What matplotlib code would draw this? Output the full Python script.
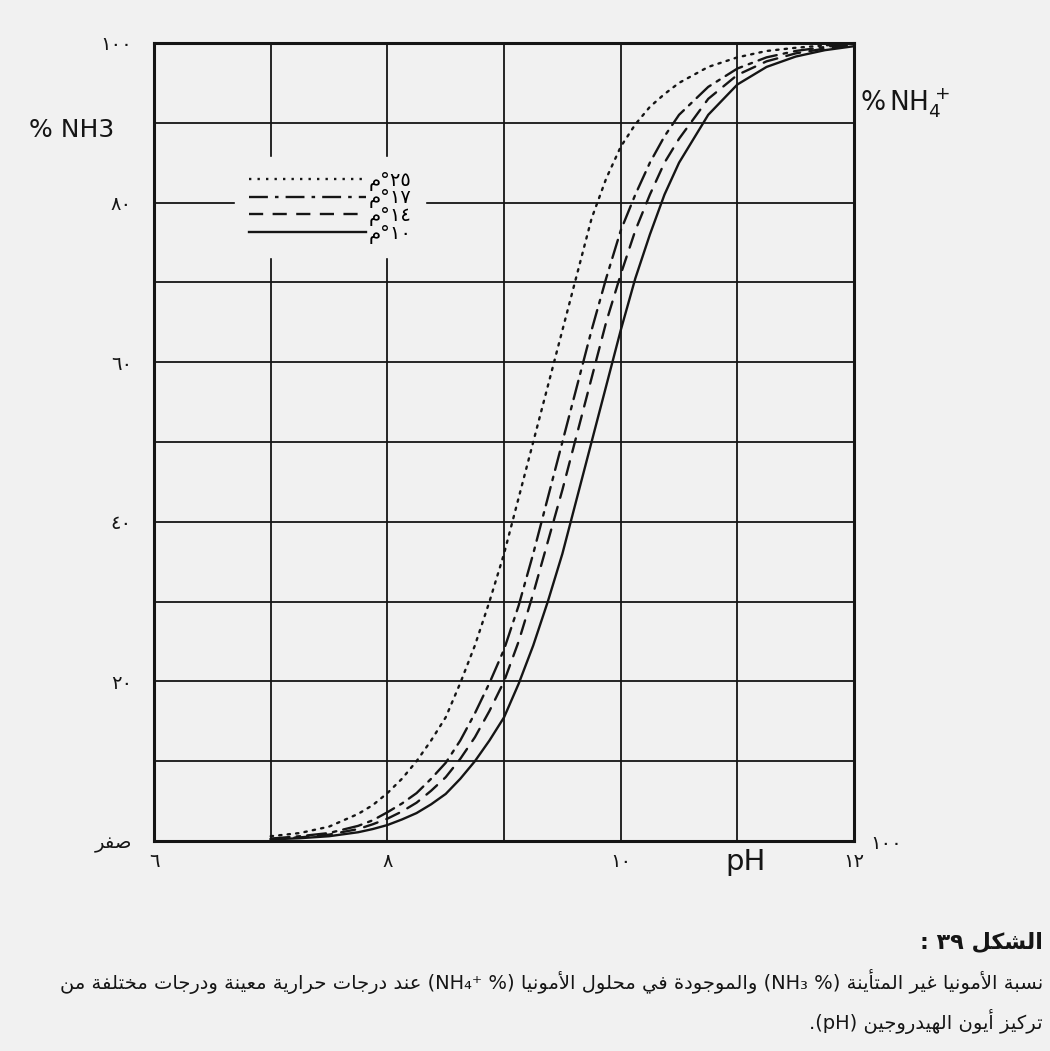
import matplotlib
matplotlib.use('Agg')
import matplotlib.pyplot as plt
from matplotlib.lines import Line2D

# valeurs (% NH3 en fonction du pH)
ph = [7.0, 7.25, 7.5, 7.75, 7.875, 8.0, 8.125, 8.25, 8.375, 8.5, 8.625,
      8.75, 8.875, 9.0, 9.125, 9.25, 9.375, 9.5, 9.625, 9.75, 9.875,
      10.0, 10.125, 10.25, 10.375, 10.5, 10.75, 11.0, 11.25, 11.5, 11.75, 12.0]
nh3_25 = [0.6, 1.0, 1.8, 3.4, 4.5, 6.0, 7.8, 10.0, 12.6, 15.5, 19.8,
          24.5, 30, 36, 43, 50, 57, 64, 71, 78, 83,
          87, 89.8, 92, 93.6, 95, 97, 98.2, 99, 99.4, 99.7, 100]
nh3_17 = [0.3, 0.6, 1.0, 1.9, 2.6, 3.6, 4.7, 6.0, 7.8, 9.8, 12.6,
          16, 19.8, 24, 29.5, 36, 43, 50, 57, 64, 70.5,
          76.5, 81, 85, 88.3, 91, 94.5, 96.8, 98.2, 99, 99.5, 100]
nh3_14 = [0.25, 0.45, 0.8, 1.5, 2.1, 2.8, 3.7, 4.8, 6.3, 8.0, 10.3,
          13, 16.3, 20, 25, 31, 37.5, 44, 51, 58, 65,
          71, 76.5, 81, 85, 88, 93, 96, 97.7, 98.7, 99.3, 99.8]
nh3_10 = [0.2, 0.35, 0.6, 1.1, 1.5, 2.0, 2.7, 3.5, 4.6, 5.9, 7.8,
          10, 12.6, 15.5, 19.7, 24.5, 30, 36, 43, 50, 57,
          64, 70.5, 76, 81, 85, 91, 94.8, 97, 98.3, 99.1, 99.6]
temperatures = ['٢٥', '١٧', '١٤', '١٠']
styles = [(0, (1, 2.6)), (0, (8, 3, 1.5, 3)), (0, (6, 4)), '-']

xticks = [6, 7, 8, 9, 10, 11, 12]
xlabels = ['٦', '', '٨', '', '١٠', '', '١٢']
yticks = [0, 10, 20, 30, 40, 50, 60, 70, 80, 90, 100]
ylabels = ['صفر', '', '٢٠', '', '٤٠', '', '٦٠', '', '٨٠', '', '١٠٠']

# formes contextuelles arabes (isolée, finale, initiale, médiane)
FORMES = {
    'ا': (0xFE8D, 0xFE8E, None, None), 'أ': (0xFE83, 0xFE84, None, None),
    'ب': (0xFE8F, 0xFE90, 0xFE91, 0xFE92), 'ة': (0xFE93, 0xFE94, None, None),
    'ت': (0xFE95, 0xFE96, 0xFE97, 0xFE98), 'ج': (0xFE9D, 0xFE9E, 0xFE9F, 0xFEA0),
    'ح': (0xFEA1, 0xFEA2, 0xFEA3, 0xFEA4), 'خ': (0xFEA5, 0xFEA6, 0xFEA7, 0xFEA8),
    'د': (0xFEA9, 0xFEAA, None, None), 'ر': (0xFEAD, 0xFEAE, None, None),
    'ز': (0xFEAF, 0xFEB0, None, None), 'س': (0xFEB1, 0xFEB2, 0xFEB3, 0xFEB4),
    'ش': (0xFEB5, 0xFEB6, 0xFEB7, 0xFEB8), 'ص': (0xFEB9, 0xFEBA, 0xFEBB, 0xFEBC),
    'ع': (0xFEC9, 0xFECA, 0xFECB, 0xFECC), 'غ': (0xFECD, 0xFECE, 0xFECF, 0xFED0),
    'ف': (0xFED1, 0xFED2, 0xFED3, 0xFED4), 'ك': (0xFED9, 0xFEDA, 0xFEDB, 0xFEDC),
    'ل': (0xFEDD, 0xFEDE, 0xFEDF, 0xFEE0), 'م': (0xFEE1, 0xFEE2, 0xFEE3, 0xFEE4),
    'ن': (0xFEE5, 0xFEE6, 0xFEE7, 0xFEE8), 'ه': (0xFEE9, 0xFEEA, 0xFEEB, 0xFEEC),
    'و': (0xFEED, 0xFEEE, None, None), 'ي': (0xFEF1, 0xFEF2, 0xFEF3, 0xFEF4),
}
LAM_ALEF = {'ا': (0xFEFB, 0xFEFC), 'أ': (0xFEF7, 0xFEF8)}


def former(texte):
    lettres = list(texte)
    sortie = []
    i = 0
    while i < len(lettres):
        c = lettres[i]
        if c not in FORMES:
            sortie.append(c)
            i += 1
            continue
        prec = lettres[i - 1] if i > 0 else None
        lie_prec = prec in FORMES and FORMES[prec][2] is not None
        if c == 'ل' and i + 1 < len(lettres) and lettres[i + 1] in LAM_ALEF:
            lig = LAM_ALEF[lettres[i + 1]]
            sortie.append(chr(lig[1] if lie_prec else lig[0]))
            i += 2
            continue
        suiv = lettres[i + 1] if i + 1 < len(lettres) else None
        lie_suiv = FORMES[c][2] is not None and suiv in FORMES
        iso, fin, ini, med = FORMES[c]
        if lie_prec and lie_suiv:
            g = med
        elif lie_prec:
            g = fin
        elif lie_suiv:
            g = ini
        else:
            g = iso
        sortie.append(chr(g))
        i += 1
    return ''.join(sortie)


def rtl(texte):
    return former(texte)[::-1]


def vis(t):
    return t if all('\u0660' <= c <= '\u0669' for c in t) else rtl(t)


plt.rcParams['font.family'] = ['DejaVu Sans']
fond = '#f1f1f1'
encre = '#151515'

fig = plt.figure(figsize=(10.5, 10.51), dpi=100, facecolor=fond)
ax = fig.add_axes([0.1467, 0.1998, 0.6667, 0.7593], facecolor=fond)

series = [nh3_25, nh3_17, nh3_14, nh3_10]
for valeurs, st in zip(series, styles):
    ax.plot(ph, valeurs, color=encre, lw=1.7, linestyle=st,
            dash_capstyle='round', solid_capstyle='round',
            solid_joinstyle='round', zorder=3)

ax.set_xlim(6, 12)
ax.set_ylim(0, 100)
ax.set_xticks(xticks)
ax.set_xticklabels(xlabels, fontsize=14, color=encre)
ax.set_yticks(yticks)
ax.set_yticklabels([vis(l) for l in ylabels], fontsize=14, color=encre)
ax.tick_params(length=0, pad=8)
ax.tick_params(axis='y', pad=16)
ax.grid(True, color=encre, lw=1.3)
for s in ax.spines.values():
    s.set_linewidth(2.2)
    s.set_color(encre)

# axe de droite : % NH4+ (100 en bas)
ax2 = ax.twinx()
ax2.set_ylim(0, 100)
ax2.set_yticks([0])
ax2.set_yticklabels(['١٠٠'], fontsize=14, color=encre)
ax2.tick_params(length=0, pad=12)
for s in ax2.spines.values():
    s.set_visible(False)

poignees = [Line2D([], [], color=encre, lw=1.7, linestyle=st) for st in styles]
etiquettes = [rtl('م') + '°' + t for t in temperatures]
leg = ax.legend(poignees, etiquettes, loc='upper left',
                bbox_to_anchor=(0.116, 0.857), fontsize=14, frameon=True,
                facecolor=fond, edgecolor=fond, framealpha=1,
                handlelength=6, handletextpad=0.15, labelspacing=-0.12,
                borderpad=0.7, borderaxespad=0)
leg.set_zorder(5)

ax.annotate('pH', xy=(11.07, 0), xycoords=('data', 'axes fraction'),
            xytext=(0, -5), textcoords='offset points', ha='center',
            va='top', fontsize=21, color=encre)

fig.text(0.028, 0.876, '% NH3', fontsize=18, color=encre, va='center')
fig.text(0.819, 0.902, r'$\%\,\mathrm{NH}_4^{\,+}$', fontsize=19,
         color=encre, va='center')

# légende de la figure
ligne1 = ': ٣٩ ' + rtl('الشكل')
ligne2 = (rtl('عند درجات حرارية معينة ودرجات مختلفة من') + ' (NH₄⁺ %) '
          + rtl('والموجودة في محلول الأمونيا') + ' (NH₃ %) '
          + rtl('نسبة الأمونيا غير المتأينة'))
ligne3 = '.(pH) ' + rtl('تركيز أيون الهيدروجين')
fig.text(0.9933, 0.1028, ligne1, ha='right', va='center', fontsize=16,
         color=encre, fontweight='bold')
fig.text(0.9933, 0.0657, ligne2, ha='right', va='center', fontsize=14,
         color=encre)
fig.text(0.9933, 0.0276, ligne3, ha='right', va='center', fontsize=14,
         color=encre)

fig.savefig('out.png', dpi=100, facecolor=fond)
